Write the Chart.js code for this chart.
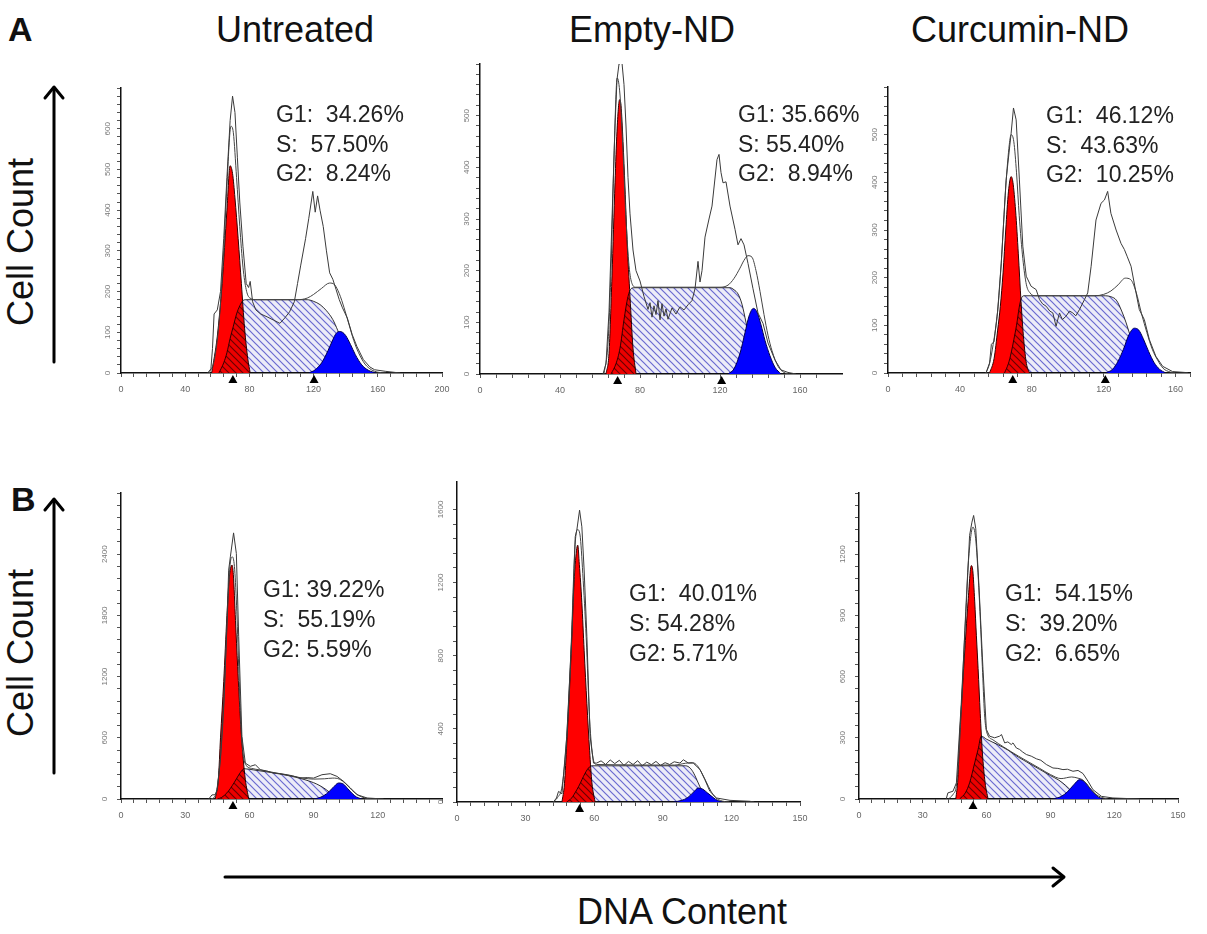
<!DOCTYPE html>
<html>
<head>
<meta charset="utf-8">
<script src="https://cdn.jsdelivr.net/npm/chart.js@4.4.1/dist/chart.umd.min.js"></script>
<style>
  html, body { margin: 0; padding: 0; background: #fff; }
  body { width: 1207px; height: 934px; position: relative; overflow: hidden;
         font-family: "Liberation Sans", Arial, sans-serif; color: #111; }
  canvas { position: absolute; }
  .title { position: absolute; font-size: 36px; line-height: 36px; white-space: nowrap; transform: translateX(-50%); }
  .letter { position: absolute; font-size: 34px; line-height: 34px; font-weight: bold; }
  .ylab { position: absolute; font-size: 36px; line-height: 36px; white-space: nowrap;
          transform: translate(-50%, -50%) rotate(-90deg); }
  .pct { position: absolute; font-size: 23px; line-height: 29.5px; white-space: pre; color: #222; z-index: 2; }
  svg { position: absolute; left: 0; top: 0; }
</style>
</head>
<body>
<div class="letter" style="left:8px;top:12px">A</div>
<div class="letter" style="left:11px;top:482px">B</div>
<div class="title" style="left:295px;top:12px">Untreated</div>
<div class="title" style="left:652px;top:12px">Empty-ND</div>
<div class="title" style="left:1020px;top:12px">Curcumin-ND</div>
<div class="ylab" style="left:21px;top:242px">Cell Count</div>
<div class="ylab" style="left:21px;top:653px">Cell Count</div>
<div class="title" style="left:682px;top:894px">DNA Content</div>

<svg width="1207" height="934">
  <g stroke="#000" stroke-width="3" fill="none" stroke-linecap="round" stroke-linejoin="round">
    <line x1="54" y1="362" x2="54" y2="88"/>
    <polyline points="45,98 54,87 63,98"/>
    <line x1="54" y1="773" x2="54" y2="500"/>
    <polyline points="45,510 54,499 63,510"/>
    <line x1="225" y1="877" x2="1063" y2="877"/>
    <polyline points="1053,868 1064,877 1053,886"/>
  </g>
</svg>

<script>
// ---- data: [DNA content, cell count] ----

// A, Untreated
const untreatedARaw = [[54,0],[56,10],[57,60],[58,145],[60,155],[62,200],[64,330],[66,480],[68,620],[69.5,680],[71,640],[72.5,530],[74,420],[76,310],[78,220],[79.5,210],[80.5,225],[82,175],[84,155],[87,145],[91,138],[95,130],[99,122],[102,135],[105,150],[108,175],[110,220],[112,265],[115,330],[117,380],[119.5,446],[121,395],[122.5,435],[124,400],[126,360],[128,300],[130,246],[132,230],[134,205],[136,180],[138,160],[141,135],[144,95],[147,65],[151,33],[155,15],[158,8],[165,4],[174,0]];
const untreatedAFit = [[55,0],[58,30],[61,120],[64,300],[66,460],[68.5,606],[70,590],[72,480],[74,360],[76,260],[78,205],[80,185],[85,180],[110,180],[116,184],[120,193],[125,208],[130,221],[133,217],[136,195],[139,160],[142,120],[145,80],[148,50],[152,22],[156,8],[160,2],[165,0]];
const untreatedAG1 = [[56.5,0],[60,90],[63,220],[66,400],[68,509],[69.5,490],[71,430],[73,330],[75,220],[77,110],[79,35],[80.5,0]];
const untreatedAS = [[61,0],[64,25],[66,50],[68,85],[70,115],[72,145],[74,165],[76,178],[78,180],[116,180],[120,176],[124,168],[128,153],[132,131],[135,105],[138,75],[141,45],[144,20],[147,5],[149,0]];
const untreatedAG2 = [[117,0],[121,8],[125,25],[129,55],[132,82],[134,97],[136,102],[138,100],[140,92],[143,70],[146,45],[150,20],[154,7],[159,0]];
const untreatedAPeaks = [69.7, 120.3];
const untreatedAText = ['G1:  34.26%', 'S:  57.50%', 'G2:  8.24%'];

// A, Empty-ND
const emptyARaw = [[61.5,0],[63,20],[64.5,120],[66,300],[67.5,480],[68.5,570],[69.5,600],[71,602],[72,560],[73,480],[74,380],[75,310],[76.5,240],[78,200],[80,180],[82,150],[84,125],[85,138],[86,110],[87,132],[88,115],[89,142],[90,105],[91,136],[92,112],[93,126],[94,106],[96,128],[98,116],[100,130],[102,124],[104,134],[106,142],[107.5,165],[109,218],[110,178],[111,200],[112.5,265],[114.5,300],[116,325],[118.5,415],[119.5,425],[120.5,390],[121.5,370],[123,372],[125,325],[127.5,280],[129,250],[130.5,262],[132,250],[134,214],[136.5,165],[139,118],[141.5,98],[144,60],[147.5,27],[150.5,8],[154,3],[158,0]];
const emptyAFit = [[62,0],[64,60],[65.5,200],[67,420],[68.6,573],[70,540],[71.5,430],[73,300],[74.5,210],[76,175],[78,168],[120,168],[124,172],[127,185],[130,205],[132,220],[134,229],[136,226],[138,200],[140,160],[142,115],[144,75],[146,45],[149,15],[152,3],[155,0]];
const emptyAG1 = [[63,0],[64.5,40],[66,190],[67.5,370],[68.5,470],[69.8,531],[70.5,520],[71.5,450],[72.5,360],[73.5,260],[75,150],[76.5,50],[78,0]];
const emptyAS = [[65.5,0],[68,20],[70,50],[72,105],[74,150],[75.5,165],[77,167],[125,167],[127,163],[129,155],[131,135],[133,100],[135,65],[137,32],[139,10],[140.5,0]];
const emptyAG2 = [[124,0],[127,10],[130,40],[132.5,80],[134.5,112],[136.7,127],[138.5,120],[140.5,95],[142.5,65],[145,35],[147.5,13],[150.5,0]];
const emptyAPeaks = [68.8, 120.8];
const emptyAText = ['G1: 35.66%', 'S: 55.40%', 'G2:  8.94%'];

// A, Curcumin-ND
const curcuminARaw = [[54.5,0],[56.5,21],[57.5,60],[59,66],[61,130],[63,231],[65.7,405],[68.5,503],[69.8,556],[71.3,531],[73.1,405],[75,266],[76.9,203],[79.6,182],[82.4,175],[84.3,154],[86,145],[88,140],[90,130],[91.7,126],[93.5,98],[95.4,126],[97,112],[99,119],[101,130],[102.8,126],[104.5,120],[106.5,133],[109.3,154],[111.1,168],[113,224],[115.7,321],[118.5,356],[120.4,363],[122.2,381],[124,335],[126.9,300],[129.6,272],[131.5,259],[133,245],[135.2,224],[138,168],[139.8,133],[142.6,112],[145.4,70],[149,35],[152.8,14],[158.3,3],[165.7,1],[167,0]];
const curcuminAFit = [[54.5,0],[56.5,20],[58.5,60],[61,130],[63,230],[65.5,390],[67.5,480],[68.5,500],[70,485],[71.5,420],[73,330],[75,240],[77,185],[79,168],[82,162],[115,162],[120,165],[124,172],[128,185],[132,199],[135,196],[138,170],[141,125],[144,85],[147,50],[150,27],[153,10],[157,2],[160,0]];
const curcuminAG1 = [[56.5,0],[59,30],[61,90],[62.5,140],[64,210],[65.5,300],[67,380],[68.5,412],[69.5,400],[71,340],[72.5,250],[74,150],[75.5,70],[77,20],[78.7,0]];
const curcuminAS = [[64.8,0],[67,20],[68.5,42],[70,70],[71.5,100],[73,138],[74,155],[75.5,162],[121,162],[124,160],[127,153],[130,130],[132.5,105],[135,75],[138,42],[140.5,15],[143.5,0]];
const curcuminAG2 = [[121,0],[125,8],[128,25],[131,50],[134,80],[137,94],[139.5,90],[142,72],[145,45],[148,22],[151,8],[154.5,0]];
const curcuminAPeaks = [69.4, 120.9];
const curcuminAText = ['G1:  46.12%', 'S:  43.63%', 'G2:  10.25%'];

// B, Untreated
const untreatedBRaw = [[41,0],[42.5,40],[44,42],[45,91],[46.5,400],[48,939],[49.5,1700],[50.3,2244],[51.1,2374],[52.6,2609],[53.9,2407],[55,1592],[56.5,613],[58.1,352],[60.4,320],[62.8,336],[65.1,287],[68,275],[71.3,254],[74,250],[77.6,238],[80,228],[83.8,205],[87,210],[90,205],[93.9,238],[97.8,248],[100.9,222],[104,173],[107.2,108],[110.3,42],[115,10],[122.7,0]];
const untreatedBFit = [[42,0],[44,30],[46,300],[48,900],[49.5,1700],[51,2300],[52,2374],[53,2280],[54,1900],[55,1300],[56,750],[57,450],[58.5,330],[61,300],[65,285],[70,265],[75,245],[80,225],[85,205],[90,195],[95,198],[99,205],[102,195],[105,150],[108,85],[111,35],[114,10],[117,0]];
const untreatedBG1 = [[44,0],[45.5,200],[46.5,600],[48,1150],[49.5,1800],[50.5,2150],[51.9,2293],[52.5,2200],[53.5,1750],[54.5,1300],[55.8,780],[57,420],[58.1,190],[59.7,0]];
const untreatedBS = [[45,0],[47,15],[49.5,60],[51,100],[53,165],[55,235],[56.5,280],[57.5,297],[62,285],[70,260],[78,230],[85,195],[90,160],[93,130],[96,90],[99,40],[102,0]];
const untreatedBG2 = [[90,0],[93,15],[96,50],[99,110],[101.7,157],[104,145],[106,100],[108,55],[110,20],[112.6,0]];
const untreatedBPeaks = [52.3];
const untreatedBText = ['G1: 39.22%', 'S:  55.19%', 'G2: 5.59%'];

// B, Empty-ND
const emptyBRaw = [[42.2,0],[43.5,22],[44.4,58],[45.9,45],[48,359],[50.2,905],[51.7,1451],[52.4,1487],[53.6,1596],[54.6,1505],[55.6,1269],[56.8,905],[58.2,359],[59.7,213],[61.1,213],[63,225],[65,205],[67,230],[69,210],[71,228],[73,200],[75,222],[77,205],[79,226],[81,198],[83,218],[85,204],[87,222],[89,200],[91,215],[93,205],[95,220],[97.5,213],[99,231],[101.2,213],[103.3,213],[106.3,177],[108.4,122],[110.6,58],[113.5,22],[119.4,9],[128,4],[130,0]];
const emptyBFit = [[42,0],[44,25],[46,90],[48,360],[50,880],[51.5,1380],[52.7,1490],[53.8,1460],[55,1250],[56.5,900],[58,450],[59.5,240],[61,205],[95,202],[100,212],[103,215],[105,200],[107,160],[109,110],[111,60],[113,25],[116,5],[119,0]];
const emptyBG1 = [[45.9,0],[47,100],[48,320],[49,560],[50.2,900],[51,1150],[51.7,1300],[52.8,1405],[53.5,1300],[54.6,1090],[55.6,830],[56.8,540],[58,280],[59,105],[60.4,0]];
const emptyBS = [[48,0],[50,20],[52.4,67],[54,105],[55.3,140],[57.5,186],[59,198],[100,198],[102,185],[103.5,158],[105.5,104],[107.5,50],[110,0]];
const emptyBG2 = [[94.6,0],[98,8],[101,25],[103.5,55],[105.5,76],[107.5,70],[109.5,50],[112,25],[114,8],[116.4,0]];
const emptyBPeaks = [53.6];
const emptyBText = ['G1:  40.01%', 'S: 54.28%', 'G2: 5.71%'];

// B, Curcumin-ND
const curcuminBRaw = [[41,0],[41.8,30],[44.2,38],[45.8,79],[48.1,472],[50.5,964],[52,1292],[53.1,1357],[53.9,1390],[54.9,1325],[56.4,1046],[58.3,636],[59.9,341],[61.4,308],[63.8,300],[66.1,308],[67,316],[68.5,275],[70,280],[71.6,267],[72.4,275],[74,250],[75.5,243],[77,230],[78.7,218],[81,210],[83.4,197],[85.5,190],[88.1,169],[91.2,152],[93.5,150],[95.9,144],[98,146],[100.6,136],[103,140],[105.3,125],[107.7,87],[110,46],[114,13],[119.4,5],[132,0]];
const curcuminBFit = [[42,0],[44,20],[46,80],[48,420],[50,880],[51.5,1170],[53.6,1333],[55,1260],[56.5,1000],[58,650],[59,420],[60,330],[63,290],[68,255],[75,210],[80,180],[85,150],[90,120],[95,100],[100,108],[103,102],[105,95],[107,75],[109,48],[111.5,22],[114,8],[117,0]];
const curcuminBG1 = [[45.5,0],[46.5,100],[47.3,300],[48.3,480],[49.2,640],[50.3,820],[51.3,970],[52.8,1144],[53.5,1120],[54.4,970],[55.2,800],[56,640],[57,420],[58,230],[59.3,80],[60.7,0]];
const curcuminBS = [[47.3,0],[50,30],[52,79],[54.4,177],[56,243],[57.5,308],[60,293],[65,268],[70,240],[75,205],[80,175],[85,145],[90,115],[94,92],[97,68],[100,38],[103.8,0]];
const curcuminBG2 = [[91.2,0],[95,12],[98,35],[101,70],[103.8,95],[106,85],[108,60],[110.5,30],[112.5,10],[114.7,0]];
const curcuminBPeaks = [53.6];
const curcuminBText = ['G1:  54.15%', 'S:  39.20%', 'G2:  6.65%'];

// ---- layout of the six panels (plot box in page px + axis settings) ----
const panels = [
  { box: [121, 88, 442, 373], x: { max: 200, step: 8, label: 40, labelMax: 200 }, y: { max: 700, step: 20, label: 100, labelMax: 600 },
    raw: untreatedARaw, fit: untreatedAFit, g1: untreatedAG1, s: untreatedAS, g2: untreatedAG2, peaks: untreatedAPeaks,
    text: untreatedAText, textAt: [276, 123], lineGap: 29.5 },
  { box: [480, 64, 842, 374], x: { max: 181, step: 8, label: 40, labelMax: 160 }, y: { max: 600, step: 20, label: 100, labelMax: 500 },
    raw: emptyARaw, fit: emptyAFit, g1: emptyAG1, s: emptyAS, g2: emptyAG2, peaks: emptyAPeaks,
    text: emptyAText, textAt: [738, 123], lineGap: 29.5 },
  { box: [888, 87, 1190, 373], x: { max: 168, step: 8, label: 40, labelMax: 160 }, y: { max: 600, step: 20, label: 100, labelMax: 500 },
    raw: curcuminARaw, fit: curcuminAFit, g1: curcuminAG1, s: curcuminAS, g2: curcuminAG2, peaks: curcuminAPeaks,
    text: curcuminAText, textAt: [1046, 124], lineGap: 29.5 },
  { box: [121, 493, 442, 799], x: { max: 150, step: 6, label: 30, labelMax: 120 }, y: { max: 3000, step: 120, label: 600, labelMax: 2400 },
    raw: untreatedBRaw, fit: untreatedBFit, g1: untreatedBG1, s: untreatedBS, g2: untreatedBG2, peaks: untreatedBPeaks,
    text: untreatedBText, textAt: [263, 597], lineGap: 30 },
  { box: [457, 482, 800, 802], x: { max: 150, step: 6, label: 30, labelMax: 150 }, y: { max: 1750, step: 80, label: 400, labelMax: 1600 },
    raw: emptyBRaw, fit: emptyBFit, g1: emptyBG1, s: emptyBS, g2: emptyBG2, peaks: emptyBPeaks,
    text: emptyBText, textAt: [629, 601], lineGap: 30 },
  { box: [859, 493, 1178, 799], x: { max: 150, step: 6, label: 30, labelMax: 150 }, y: { max: 1500, step: 60, label: 300, labelMax: 1200 },
    raw: curcuminBRaw, fit: curcuminBFit, g1: curcuminBG1, s: curcuminBS, g2: curcuminBG2, peaks: curcuminBPeaks,
    text: curcuminBText, textAt: [1005, 601], lineGap: 30 }
];

const FONT = '"Liberation Sans", Arial, sans-serif';
const onStep = (v, s) => Math.abs(v / s - Math.round(v / s)) < 1e-6;
const pts = arr => arr.map(([x, y]) => ({ x, y }));

// diagonal hatch used for the S phase
function hatch(ctx) {
  const tile = document.createElement('canvas');
  tile.width = 7; tile.height = 7;
  const g = tile.getContext('2d');
  g.fillStyle = '#ececf8';
  g.fillRect(0, 0, 7, 7);
  g.strokeStyle = '#6a6ad0';
  g.lineWidth = 1.2;
  g.beginPath();
  g.moveTo(-1, -1); g.lineTo(8, 8);
  g.moveTo(-1, 6); g.lineTo(1, 8);
  g.moveTo(6, -1); g.lineTo(8, 1);
  g.stroke();
  return ctx.createPattern(tile, 'repeat');
}

// S hatch is multiplied over the red G1 peak where they overlap
const sBlend = {
  id: 'sBlend',
  afterDatasetDraw(chart, args) {
    if (args.meta.label === 'G1') chart.ctx.globalCompositeOperation = 'multiply';
    if (args.meta.label === 'S') chart.ctx.globalCompositeOperation = 'source-over';
  }
};

// black triangles under the axis at the G1 / G2 peak positions
const peakMarks = {
  id: 'peakMarks',
  afterDraw(chart, args, opts) {
    const { ctx, chartArea, scales: { x } } = chart;
    ctx.save();
    ctx.fillStyle = '#000';
    for (const v of opts.at || []) {
      const px = x.getPixelForValue(v);
      const top = chartArea.bottom + 2;
      ctx.beginPath();
      ctx.moveTo(px, top);
      ctx.lineTo(px - 4.5, top + 8);
      ctx.lineTo(px + 4.5, top + 8);
      ctx.closePath();
      ctx.fill();
    }
    ctx.restore();
  }
};

function makePanel(p) {
  const [l, t, r, b] = p.box;
  const padL = 26, padT = 10, padR = 16, padB = 28;
  const canvas = document.createElement('canvas');
  canvas.width = r - l + padL + padR;
  canvas.height = b - t + padT + padB;
  canvas.style.left = (l - padL) + 'px';
  canvas.style.top = (t - padT) + 'px';
  document.body.appendChild(canvas);
  const ctx = canvas.getContext('2d');

  const area = { fill: 'origin', pointRadius: 0, cubicInterpolationMode: 'monotone', borderWidth: 1 };

  new Chart(ctx, {
    type: 'line',
    data: {
      datasets: [
        { label: 'raw', data: pts(p.raw), borderColor: '#3a3a3a', borderWidth: 1, pointRadius: 0, tension: 0, fill: false, order: 1 },
        { label: 'fit', data: pts(p.fit), borderColor: '#444', borderWidth: 1, pointRadius: 0, cubicInterpolationMode: 'monotone', fill: false, order: 2 },
        { label: 'G2', data: pts(p.g2), backgroundColor: '#0000ff', borderColor: '#000050', ...area, order: 3 },
        { label: 'S', data: pts(p.s), backgroundColor: hatch(ctx), borderColor: '#333', ...area, order: 4 },
        { label: 'G1', data: pts(p.g1), backgroundColor: '#ff0000', borderColor: '#300', ...area, order: 5 }
      ]
    },
    options: {
      responsive: false,
      animation: false,
      events: [],
      layout: { padding: { top: padT, right: padR, left: 0, bottom: 0 } },
      plugins: { legend: { display: false }, tooltip: { enabled: false }, peakMarks: { at: p.peaks } },
      scales: {
        x: {
          type: 'linear', min: 0, max: p.x.max,
          afterFit: s => { s.height = padB; },
          afterBuildTicks: s => { s.ticks = s.ticks.filter(tk => onStep(tk.value, p.x.step)); },
          ticks: {
            stepSize: p.x.step, autoSkip: false, minRotation: 0, maxRotation: 0, padding: 7,
            color: '#666', font: { size: 9, family: FONT },
            callback: v => (onStep(v, p.x.label) && v <= p.x.labelMax) ? String(v) : ''
          },
          grid: { drawOnChartArea: false, tickLength: 4, color: '#555' },
          border: { display: true, color: '#111', width: 1.5 }
        },
        y: {
          min: 0, max: p.y.max,
          afterFit: s => { s.width = padL; },
          afterBuildTicks: s => { s.ticks = s.ticks.filter(tk => onStep(tk.value, p.y.step)); },
          ticks: {
            stepSize: p.y.step, autoSkip: false, minRotation: 90, maxRotation: 90, crossAlign: 'center', padding: 3,
            color: '#777', font: { size: 8, family: FONT },
            callback: v => (onStep(v, p.y.label) && v <= p.y.labelMax) ? String(v) : ''
          },
          grid: { drawOnChartArea: false, tickLength: 4, color: '#555' },
          border: { display: true, color: '#111', width: 1.5 }
        }
      }
    },
    plugins: [sBlend, peakMarks]
  });

  // phase percentages
  const div = document.createElement('div');
  div.className = 'pct';
  div.style.left = p.textAt[0] + 'px';
  div.style.top = (p.textAt[1] - 22.7) + 'px';
  div.style.lineHeight = p.lineGap + 'px';
  div.textContent = p.text.join('\n');
  document.body.appendChild(div);
}

panels.forEach(makePanel);
</script>
</body>
</html>
